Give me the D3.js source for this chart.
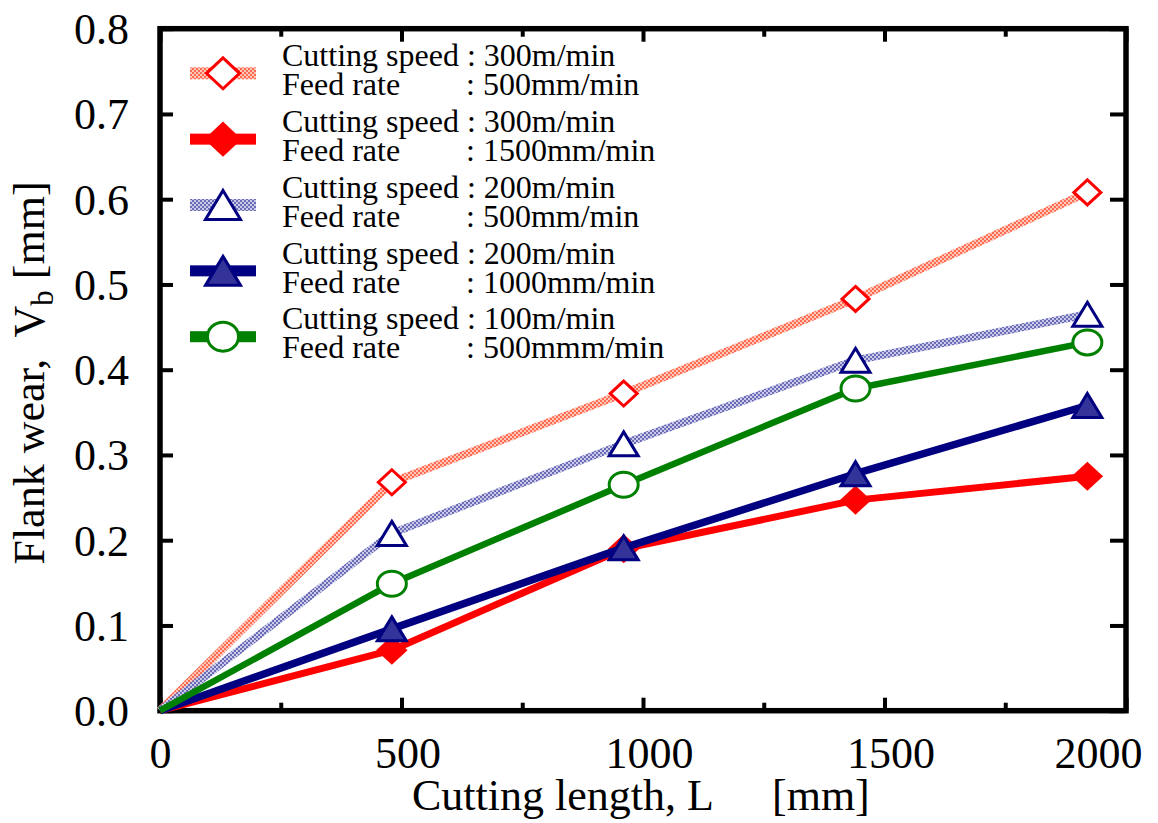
<!DOCTYPE html>
<html lang="en">
<head>
<meta charset="UTF-8">
<title>Flank wear vs cutting length</title>
<script src="https://d3js.org/d3.v7.min.js"></script>
<style>
  body { margin: 0; background: #fff; }
  text { font-family: "Liberation Serif", "Times New Roman", serif; fill: #000; }
  .axis path.domain { display: none; }
  .axis line { stroke: #000; stroke-width: 4; }
  .axis text { font-size: 44px; }
  .legend text { font-size: 32px; }
</style>
</head>
<body>
<div id="chart"></div>
<script>
// cutting length L [mm]
const cuttingLength = [0, 480, 960, 1440, 1920];

// flank wear Vb [mm], one array per cutting condition
const wear300x500  = [0, 0.268, 0.372, 0.483, 0.608];
const wear300x1500 = [0, 0.071, 0.190, 0.247, 0.275];
const wear200x500  = [0, 0.208, 0.313, 0.411, 0.465];
const wear200x1000 = [0, 0.096, 0.191, 0.278, 0.358];
const wear100x500  = [0, 0.149, 0.265, 0.378, 0.432];

const speedLabels = ["300m/min", "300m/min", "200m/min", "200m/min", "100m/min"];
const feedLabels  = ["500mm/min", "1500mm/min", "500mm/min", "1000mm/min", "500mmm/min"];

const xTicks = [0, 500, 1000, 1500, 2000];
const xMinorTicks = [250, 750, 1250, 1750];
const yTicks = [0, 0.1, 0.2, 0.3, 0.4, 0.5, 0.6, 0.7, 0.8];

const W = 1158, H = 823;
const plot = { left: 160, right: 1126, top: 28.7, bottom: 710.7 };

const svg = d3.select("#chart").append("svg")
  .attr("width", W).attr("height", H);

// hatched line fills
const defs = svg.append("defs");
function hatch(id, light, dark) {
  const p = defs.append("pattern").attr("id", id)
    .attr("patternUnits", "userSpaceOnUse").attr("width", 4).attr("height", 4);
  p.append("rect").attr("width", 4).attr("height", 4).attr("fill", light);
  p.append("rect").attr("width", 2).attr("height", 2).attr("fill", dark);
  p.append("rect").attr("x", 2).attr("y", 2).attr("width", 2).attr("height", 2).attr("fill", dark);
}
hatch("hatchRed", "#ffc6ba", "#ff6c52");
hatch("hatchBlue", "#cacaea", "#6c6cb6");

const series = [
  { values: wear300x500,  line: "url(#hatchRed)",  width: 8,   marker: "diamond",  stroke: "#ff0000", fill: "#fff" },
  { values: wear300x1500, line: "#ff0000",         width: 7,   marker: "diamond",  stroke: "#ff0000", fill: "#ff0000" },
  { values: wear200x500,  line: "url(#hatchBlue)", width: 8,   marker: "triangle", stroke: "#000080", fill: "#fff" },
  { values: wear200x1000, line: "#000080",         width: 7.5, marker: "triangle", stroke: "#000080", fill: "#333399" },
  { values: wear100x500,  line: "#008000",         width: 6.5, marker: "circle",   stroke: "#008000", fill: "#fff" }
];

const x = d3.scaleLinear().domain([0, 2000]).range([plot.left, plot.right]);
const y = d3.scaleLinear().domain([0, 0.8]).range([plot.bottom, plot.top]);

// marker shapes, sized by outer box
function markerPath(type, w, h) {
  const sw = 3, a = (w - sw) / 2, b = (h - sw) / 2;
  if (type === "diamond") return `M0,${-b}L${a},0L0,${b}L${-a},0Z`;
  if (type === "triangle") return `M0,${-b}L${a},${b}L${-a},${b}Z`;
  return null;
}
function drawMarker(g, s, cx, cy, w, h) {
  if (s.marker === "circle") {
    g.append("ellipse").attr("cx", cx).attr("cy", cy)
      .attr("rx", (w - 3) / 2).attr("ry", (h - 3) / 2)
      .attr("fill", s.fill).attr("stroke", s.stroke).attr("stroke-width", 3);
  } else {
    g.append("path").attr("transform", `translate(${cx},${cy})`)
      .attr("d", markerPath(s.marker, w, h))
      .attr("fill", s.fill).attr("stroke", s.stroke).attr("stroke-width", 3)
      .attr("stroke-linejoin", "miter");
  }
}
const plotSize = { diamond: [30, 28], triangle: [32, 27], circle: [32, 28] };
const legendSize = { diamond: [36, 34], triangle: [38, 32], circle: [34, 32] };

// axes (inward ticks)
svg.append("g").attr("class", "axis")
  .attr("transform", `translate(0,${plot.bottom})`)
  .call(d3.axisBottom(x).tickValues(xTicks).tickSize(-13).tickPadding(26).tickFormat(d3.format("d")))
  .call(g => g.selectAll("text")
    .attr("dx", d => d === 2000 ? 16 : (d === 0 ? 0 : 6))
    .attr("text-anchor", d => d === 2000 ? "end" : "middle"));
svg.append("g").attr("class", "axis")
  .attr("transform", `translate(0,${plot.bottom})`)
  .call(d3.axisBottom(x).tickValues(xMinorTicks).tickSize(-8).tickFormat(""));
svg.append("g").attr("class", "axis")
  .attr("transform", `translate(0,${plot.top})`)
  .call(d3.axisTop(x).tickValues(xTicks).tickSize(-13).tickFormat(""));
svg.append("g").attr("class", "axis")
  .attr("transform", `translate(0,${plot.top})`)
  .call(d3.axisTop(x).tickValues(xMinorTicks).tickSize(-8).tickFormat(""));
svg.append("g").attr("class", "axis")
  .attr("transform", `translate(${plot.left},0)`)
  .call(d3.axisLeft(y).tickValues(yTicks).tickSize(-13).tickPadding(31).tickFormat(d3.format(".1f")))
  .call(g => g.selectAll("text").attr("dy", "0.34em"));
svg.append("g").attr("class", "axis")
  .attr("transform", `translate(${plot.right},0)`)
  .call(d3.axisRight(y).tickValues(yTicks).tickSize(-16).tickFormat(""));

svg.append("rect")
  .attr("x", plot.left).attr("y", plot.top)
  .attr("width", plot.right - plot.left).attr("height", plot.bottom - plot.top)
  .attr("fill", "none").attr("stroke", "#000").attr("stroke-width", 5.5);

// axis titles
svg.append("text")
  .attr("x", 412).attr("y", 810)
  .style("font-size", "44px")
  .text("Cutting length, L")
  .append("tspan").attr("x", 772).text("[mm]");

const yTitle = svg.append("text")
  .attr("transform", "translate(44,373) rotate(-90)")
  .attr("text-anchor", "middle")
  .style("font-size", "44px");
yTitle.append("tspan").text("Flank wear,\u00a0 V");
yTitle.append("tspan").attr("dy", 9).style("font-size", "31px").text("b");
yTitle.append("tspan").attr("dy", -9).text(" [mm]");

// data lines + markers
const line = d3.line().x((d, i) => x(cuttingLength[i])).y(d => y(d));
series.forEach(s => {
  const g = svg.append("g");
  g.append("path")
    .attr("d", line(s.values))
    .attr("fill", "none")
    .attr("stroke", s.line)
    .attr("stroke-width", s.width)
    .attr("stroke-linejoin", "round");
  const [w, h] = plotSize[s.marker];
  s.values.forEach((v, i) => {
    if (i === 0) return;
    drawMarker(g, s, x(cuttingLength[i]), y(v), w, h);
  });
});

// legend
const rowY = d3.scaleLinear().domain([0, 4]).range([73.3, 336.7]);
const legend = svg.append("g").attr("class", "legend");
series.forEach((s, i) => {
  const cy = rowY(i);
  const g = legend.append("g");
  const lw = s.line.startsWith("url") ? 12 : 11;
  g.append("rect").attr("x", 190).attr("y", cy - lw / 2)
    .attr("width", 66).attr("height", lw).attr("fill", s.line);
  const [w, h] = legendSize[s.marker];
  drawMarker(g, s, 223, cy, w, h);
  g.append("text").attr("x", 282).attr("y", cy - 7.3)
    .text("Cutting speed : " + speedLabels[i]);
  g.append("text").attr("x", 282).attr("y", cy + 21.7).text("Feed rate");
  g.append("text").attr("x", 466).attr("y", cy + 21.7).text(": " + feedLabels[i]);
});
</script>
</body>
</html>
